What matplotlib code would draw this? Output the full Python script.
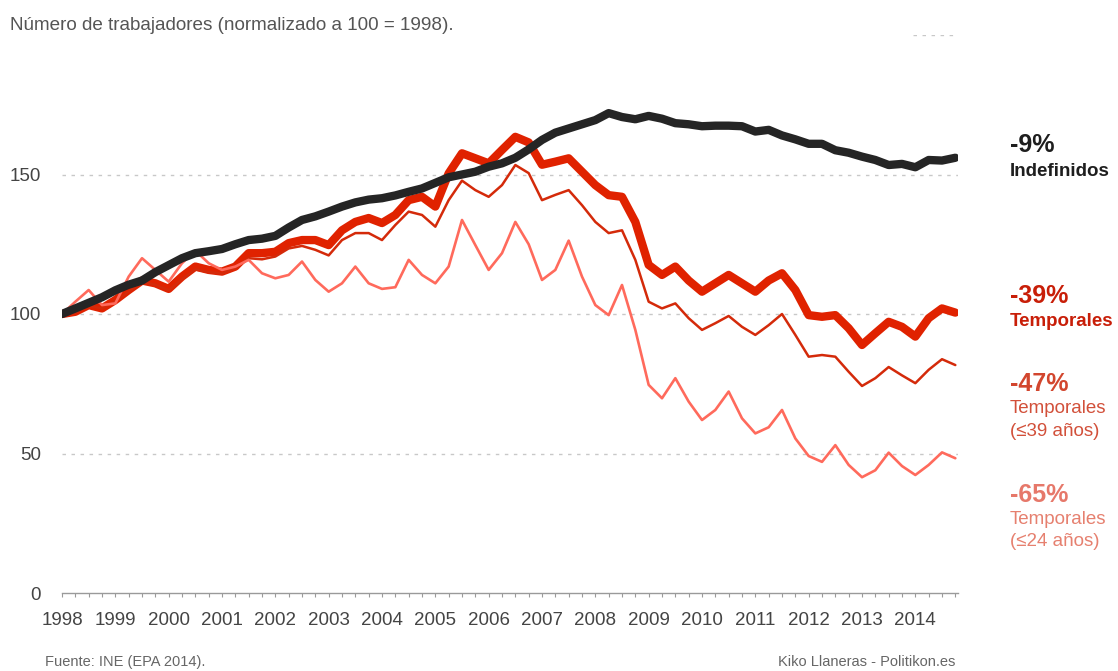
import numpy as np
import matplotlib
matplotlib.use('Agg')
import matplotlib.pyplot as plt

plt.rcParams['font.family'] = ['Liberation Sans', 'DejaVu Sans']

# quarterly index values (100 = 1998Q1), 1998Q1 .. 2014Q4
start_year = 1998
indefinidos = [100, 102, 104, 106, 108.5, 110.5, 112, 115, 117.5, 120,
               121.8, 122.5, 123.3, 125, 126.5, 127, 128, 131, 133.7, 135,
               136.7, 138.5, 140, 141, 141.5, 142.5, 143.8, 145, 147, 149,
               150, 151, 152.8, 154, 156, 159, 162.4, 165, 166.5, 168,
               169.5, 172, 170.6, 169.8, 171, 170, 168.4, 168, 167.3, 167.5,
               167.5, 167.3, 165.4, 166, 164, 162.6, 161, 161, 158.7, 157.8,
               156.4, 155.2, 153.4, 153.8, 152.6, 155.2, 155, 156]
temporales = [100, 100.8, 103.2, 102, 105, 108.6, 112, 111, 109, 113.4,
              117, 115.8, 115.2, 117, 121.8, 121.8, 122.3, 125.4, 126.5, 126.5,
              124.7, 130, 133, 134.4, 132.6, 135.5, 140.8, 142, 138.5, 150.4,
              157.6, 155.8, 154, 158.8, 163.5, 161.5, 153.5, 154.6, 155.8, 151,
              146.2, 142.6, 142, 133, 117.6, 114, 117, 112, 108, 111,
              114, 111, 108, 112, 114.6, 108.6, 99.6, 99, 99.6, 94.9,
              88.9, 93.1, 97.2, 95.4, 91.9, 98.5, 102, 100.5]
temp_39 = [100, 100.5, 103, 102, 104.5, 108, 111.5, 110.5, 108.5, 112.5,
           116, 115, 114.5, 116.5, 120, 119.6, 120.6, 123.5, 124.4, 123,
           121, 126.5, 129, 129, 126.5, 131.9, 136.7, 135.5, 131.3, 140.8,
           147.8, 144.4, 142, 146.2, 153.4, 150.5, 140.8, 142.7, 144.4, 139,
           133, 129, 130, 119.4, 104.4, 102, 103.8, 98.5, 94.3, 96.7,
           99.3, 95.4, 92.5, 96, 100, 92.5, 84.7, 85.3, 84.7, 79.3,
           74.2, 77, 81, 78, 75.2, 80, 83.8, 81.7]
temp_24 = [100, 104.4, 108.6, 103.2, 103.8, 113.4, 120, 115.8, 111.6, 118.2,
           122.7, 118.2, 115.8, 117, 119.4, 114.6, 112.8, 114, 118.8, 112.2,
           108, 111, 117, 111, 109, 109.6, 119.4, 114, 111, 117,
           133.7, 124.7, 115.8, 121.8, 133, 125, 112.2, 115.8, 126.3, 113.4,
           103.2, 99.6, 110.4, 94.3, 74.6, 69.8, 77, 68.6, 62, 65.6,
           72.2, 62.6, 57.2, 59.4, 65.6, 55.4, 49.1, 47, 53, 45.9,
           41.5, 44, 50.3, 45.5, 42.3, 45.9, 50.4, 48.3]
years = list(range(1998, 2015))
yticks = [0, 50, 100, 150]

t = start_year + np.arange(len(indefinidos)) / 4

fig = plt.figure(figsize=(11.18, 6.71), dpi=100)
ax = fig.add_axes([62 / 1118, 1 - 593 / 671, 896 / 1118, 558 / 671])

grid_kw = dict(color='#c8c8c8', lw=1, ls=(0, (2.5, 4)), zorder=0)
for v in yticks[1:]:
    ax.axhline(v, **grid_kw)
ax.axhline(200, xmin=0.95, xmax=0.995, **grid_kw)

line_kw = dict(solid_capstyle='round', solid_joinstyle='round')
ax.plot(t, temporales, color='#e02200', lw=6, zorder=3, **line_kw)
ax.plot(t, temp_39, color='#d42a0a', lw=1.8, zorder=4, **line_kw)
ax.plot(t, temp_24, color='#ff6a5c', lw=1.9, zorder=4, **line_kw)
ax.plot(t, indefinidos, color='#252525', lw=6, zorder=5, **line_kw)

ax.set_xlim(1998, 2014.8)
ax.set_ylim(0, 200)

for s in ['top', 'right', 'left']:
    ax.spines[s].set_visible(False)
ax.spines['bottom'].set_color('#9a9a9a')
ax.spines['bottom'].set_linewidth(1)

ax.set_xticks(years)
ax.set_xticklabels([str(y) for y in years])
ax.set_xticks(np.arange(1998, 2014.8, 0.25), minor=True)
ax.tick_params(axis='x', which='both', length=3, color='#9a9a9a', width=0.8,
               labelsize=13.5, labelcolor='#444444', pad=11)
ax.set_yticks(yticks)
ax.set_yticklabels([str(v) for v in yticks])
ax.tick_params(axis='y', length=0, labelsize=13.5, labelcolor='#444444', pad=15)

fig.text(10 / 1118, 1 - 25 / 671, 'Número de trabajadores (normalizado a 100 = 1998).',
         fontsize=13.6, color='#555555', va='center', ha='left')

lx = 1010 / 1118
def lab(y, s, color, size=13.5, weight='normal'):
    fig.text(lx, 1 - y / 671, s, fontsize=size, color=color, weight=weight,
             va='center', ha='left')

lab(145, '-9%', '#1e1e1e', 18, 'bold')
lab(172, 'Indefinidos', '#1e1e1e', 13.5, 'bold')
lab(296, '-39%', '#c81e08', 18, 'bold')
lab(321, 'Temporales', '#c81e08', 13.5, 'bold')
lab(384, '-47%', '#d2462e', 18, 'bold')
lab(409, 'Temporales', '#d2503a')
lab(431, '(≤39 años)', '#d2503a')
lab(495, '-65%', '#e6786a', 18, 'bold')
lab(520, 'Temporales', '#e6806f')
lab(542, '(≤24 años)', '#e6806f')

fig.text(45 / 1118, 1 - 662 / 671, 'Fuente: INE (EPA 2014).', fontsize=10.5,
         color='#666666', va='center', ha='left')
fig.text(955 / 1118, 1 - 662 / 671, 'Kiko Llaneras - Politikon.es', fontsize=10.5,
         color='#666666', va='center', ha='right')

fig.savefig('out.png', dpi=100)
